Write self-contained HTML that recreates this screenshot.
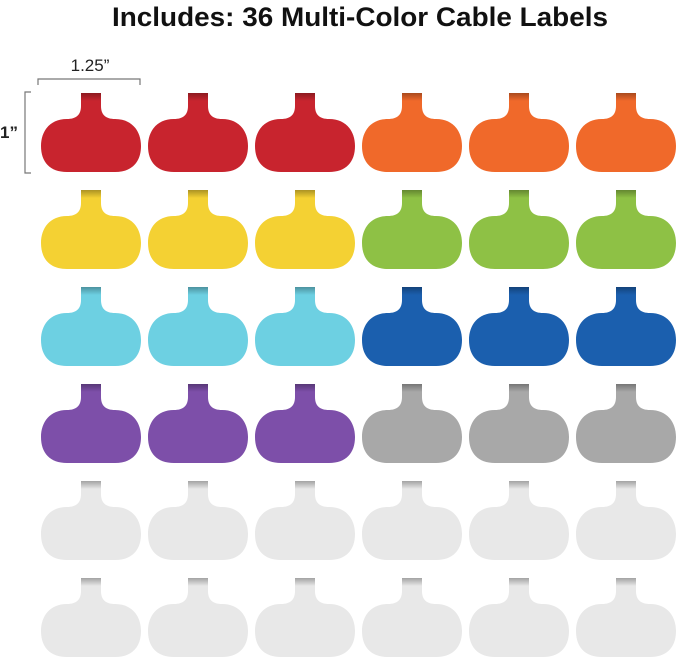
<!DOCTYPE html>
<html><head><style>
body{margin:0;background:#fff;width:679px;height:659px;overflow:hidden;font-family:"Liberation Sans",sans-serif}
</style></head><body>
<svg width="679" height="659" xmlns="http://www.w3.org/2000/svg">
<defs>
<path id="s" d="M40 0 H60 V13 C60 22 65 26 74 26 C91 26 100 38 100 53 C100 69 91 79 74 79 H26 C9 79 0 69 0 53 C0 38 9 26 26 26 C35 26 40 22 40 13 Z"/>
<linearGradient id="tab" x1="0" y1="0" x2="0" y2="1"><stop offset="0" stop-color="#000" stop-opacity="0.3"/><stop offset="1" stop-color="#000" stop-opacity="0"/></linearGradient>
</defs>
<text x="112" y="26" textLength="496" lengthAdjust="spacingAndGlyphs" font-size="27" font-weight="bold" fill="#111">Includes: 36 Multi-Color Cable Labels</text>
<text x="90" y="71" text-anchor="middle" font-size="17" fill="#222">1.25”</text>
<path d="M38 85 V79 H140 V85" fill="none" stroke="#777" stroke-width="1.2"/>
<path d="M31 92 H25 V173 H31" fill="none" stroke="#777" stroke-width="1.2"/>
<text x="0" y="138" font-size="17" font-weight="bold" fill="#222">1”</text>
<g id="grid"></g>
</svg>
<script>
var rows=[["#c8242e","#f0692a"],["#f4d133","#8ec145"],["#6dd0e2","#1b5fae"],["#7d4fa9","#a8a8a8"],["#e8e8e8","#e8e8e8"],["#e8e8e8","#e8e8e8"]];
var xs=[41,148,255,362,469,576],g=document.getElementById("grid"),h="";
for(var r=0;r<6;r++){var y=93+r*97;for(var c=0;c<6;c++){var col=rows[r][c<3?0:1];
h+='<use href="#s" x="'+xs[c]+'" y="'+y+'" fill="'+col+'"/>';
h+='<rect x="'+(xs[c]+40)+'" y="'+y+'" width="20" height="8" fill="url(#tab)"/>';}}
g.innerHTML=h;
</script>
</body></html>
